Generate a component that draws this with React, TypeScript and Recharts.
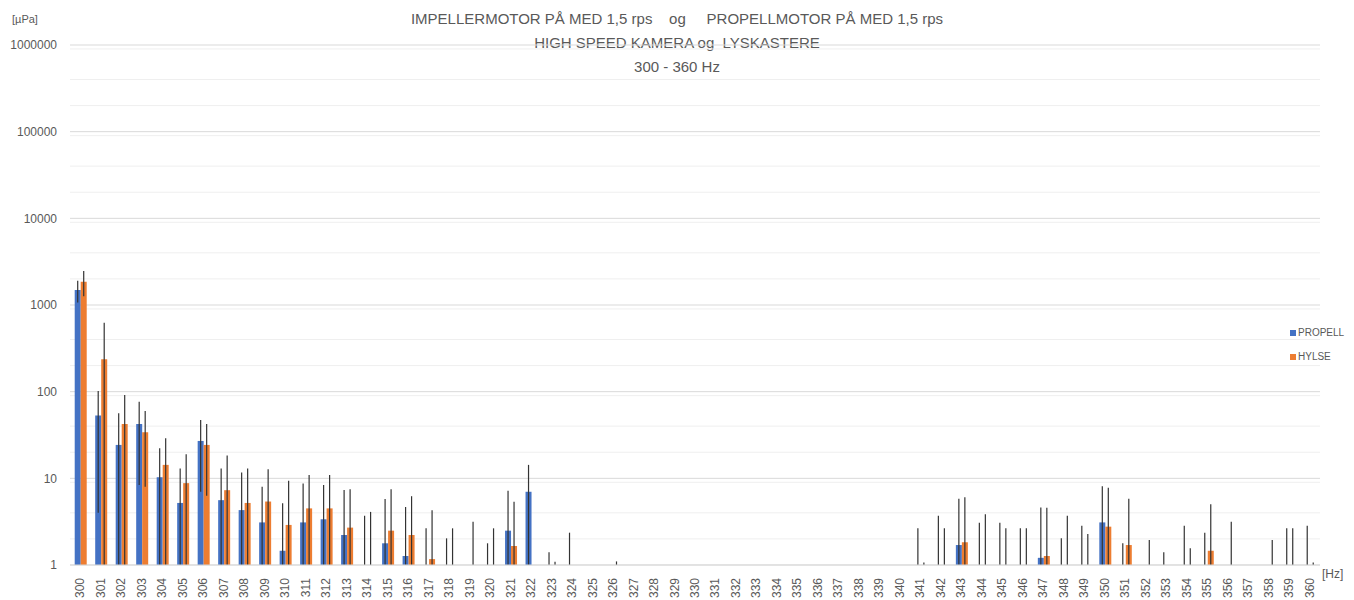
import React from "react";
import {
  Bar,
  BarChart,
  CartesianGrid,
  ErrorBar,
  Rectangle,
  XAxis,
  YAxis,
} from "recharts";

// frequencies, 300 - 360 Hz
const frequencies = [
  "300", "301", "302", "303", "304", "305", "306", "307", "308", "309",
  "310", "311", "312", "313", "314", "315", "316", "317", "318", "319",
  "320", "321", "322", "323", "324", "325", "326", "327", "328", "329",
  "330", "331", "332", "333", "334", "335", "336", "337", "338", "339",
  "340", "341", "342", "343", "344", "345", "346", "347", "348", "349",
  "350", "351", "352", "353", "354", "355", "356", "357", "358", "359",
  "360",
];

// values below 1 are off the log axis, only their error bar shows
const propell = [
  1490, 53, 24.3, 42.4, 10.3, 5.2, 27, 5.6, 4.3, 3.1,
  1.46, 3.1, 3.37, 2.22, 0.5, 1.78, 1.27, 0.5, 0.5, null,
  0.5, 2.49, 7.0, 0.5, 0.5, null, null, null, null, null,
  null, null, null, null, null, null, null, null, null, null,
  null, 0.5, 0.5, 1.7, 0.5, 0.5, 0.5, 1.21, 0.5, 0.5,
  3.1, 0.5, null, 0.5, 0.5, 0.5, null, null, null, 0.5,
  0.5,
];

const propellErr = [
  420, 49, 32, 34, 12, 7.8, 20, 7.4, 7.4, 4.9,
  3.7, 5.6, 5, 5.1, 3.2, 4, 3.4, 2.15, 1.53, null,
  1.28, 4.7, 7.3, 0.9, 1.86, null, null, null, null, null,
  null, null, null, null, null, null, null, null, null, null,
  null, 2.15, 3.2, 4.1, 2.58, 2.58, 2.15, 3.4, 1.53, 2.34,
  5, 1.28, null, 0.9, 2.34, 1.86, null, null, null, 2.15,
  2.34,
];

const hylse = [
  1860, 236, 42.4, 34, 14.3, 8.8, 24.3, 7.3, 5.2, 5.4,
  2.9, 4.5, 4.5, 2.7, 0.5, 2.49, 2.22, 1.17, 0.5, 0.5,
  0.5, 1.66, null, 0.5, null, null, 0.5, null, null, null,
  null, null, null, null, null, null, null, null, null, null,
  null, 0.5, 0.5, 1.83, 0.5, 0.5, 0.5, 1.27, 0.5, 0.5,
  2.77, 1.7, 0.5, null, 0.5, 1.46, 0.5, null, 0.5, 0.5,
  0.5,
];

const hylseErr = [
  600, 390, 49, 26, 14.7, 10.2, 18, 11, 7.8, 7.3,
  6.5, 6.4, 6.4, 4.8, 3.6, 5, 4, 3.1, 2.15, 2.66,
  2.15, 3.7, null, 0.59, null, null, 0.6, null, null, null,
  null, null, null, null, null, null, null, null, null, null,
  null, 0.57, 2.15, 4.2, 3.35, 2.15, 2.15, 3.3, 3.2, 1.78,
  5, 4.1, 1.44, null, 1.06, 3.55, 2.66, null, 1.44, 2.15,
  0.57,
];

const yTicks = [1, 10, 100, 1000, 10000, 100000, 1000000];
const minorTicks = yTicks
  .slice(0, -1)
  .flatMap((d) => [2, 3, 4, 5, 6, 7, 8, 9].map((m) => m * d));

const BLUE = "#4472C4";
const ORANGE = "#ED7D31";
const TEXT = "#595959";
const FONT = "'Liberation Sans Narrow', 'Liberation Sans', sans-serif";

// error bars are clipped at the axis floor (1)
const errRange = (v: number | null, e: number | null) =>
  v == null || e == null ? null : [v - Math.max(v - e, 1), e];

const data = frequencies.map((hz, i) => ({
  hz,
  propell: propell[i],
  hylse: hylse[i],
  propellErr: errRange(propell[i], propellErr[i]),
  hylseErr: errRange(hylse[i], hylseErr[i]),
}));

const barShape = (key: string) => (props: any) => {
  const v = props.payload?.[key];
  if (v == null || v < 1) return <g />;
  return <Rectangle {...props} />;
};

const XTick = ({ x, y, payload }: any) => (
  <text
    transform={`translate(${x},${y + 5}) rotate(-90)`}
    textAnchor="end"
    dominantBaseline="central"
    fontSize={12}
    fill={TEXT}
    fontFamily={FONT}
  >
    {payload.value}
  </text>
);

const App = () => {
  return (
    <div
      style={{
        position: "absolute",
        left: 0,
        top: 0,
        width: 1354,
        height: 600,
        background: "#fff",
        fontFamily: FONT,
        color: TEXT,
      }}
    >
      <div
        style={{
          position: "absolute",
          left: 0,
          width: 1354,
          top: 7,
          textAlign: "center",
          fontSize: 15,
          lineHeight: "24px",
          whiteSpace: "pre",
        }}
      >
        {"IMPELLERMOTOR PÅ MED 1,5 rps    og     PROPELLMOTOR PÅ MED 1,5 rps"}
        <br />
        {"HIGH SPEED KAMERA og  LYSKASTERE"}
        <br />
        {"300 - 360 Hz"}
      </div>
      <div style={{ position: "absolute", left: 12, top: 13, fontSize: 11 }}>
        [µPa]
      </div>
      <div style={{ position: "absolute", left: 1322, top: 567, fontSize: 12 }}>
        [Hz]
      </div>

      <BarChart
        width={1354}
        height={600}
        data={data}
        margin={{ top: 45, right: 34, bottom: 0, left: 0 }}
        barCategoryGap="23%"
        barGap={0}
      >
        <CartesianGrid
          vertical={false}
          horizontalValues={minorTicks}
          stroke="#efefef"
        />
        <CartesianGrid vertical={false} stroke="#d9d9d9" />
        <XAxis
          dataKey="hz"
          interval={0}
          height={35}
          tickLine={false}
          axisLine={{ stroke: "#d9d9d9" }}
          tick={<XTick />}
        />
        <YAxis
          scale="log"
          domain={[1, 1000000]}
          ticks={yTicks}
          allowDataOverflow
          width={70}
          tickLine={false}
          axisLine={false}
          tickSize={0}
          tickMargin={13}
          tick={{ fontSize: 12, fill: TEXT, fontFamily: FONT }}
        />
        <Bar
          dataKey="propell"
          fill={BLUE}
          isAnimationActive={false}
          shape={barShape("propell")}
        >
          <ErrorBar
            dataKey="propellErr"
            width={0}
            stroke="#333"
            strokeWidth={1.2}
            isAnimationActive={false}
          />
        </Bar>
        <Bar
          dataKey="hylse"
          fill={ORANGE}
          isAnimationActive={false}
          shape={barShape("hylse")}
        >
          <ErrorBar
            dataKey="hylseErr"
            width={0}
            stroke="#333"
            strokeWidth={1.2}
            isAnimationActive={false}
          />
        </Bar>
      </BarChart>

      <div
        style={{
          position: "absolute",
          left: 1290,
          top: 321,
          fontSize: 10,
          lineHeight: "24px",
        }}
      >
        <div style={{ display: "flex", alignItems: "center" }}>
          <span
            style={{ width: 6, height: 6, background: BLUE, marginRight: 2 }}
          />
          PROPELL
        </div>
        <div style={{ display: "flex", alignItems: "center" }}>
          <span
            style={{ width: 6, height: 6, background: ORANGE, marginRight: 2 }}
          />
          HYLSE
        </div>
      </div>
    </div>
  );
};

export default App;
